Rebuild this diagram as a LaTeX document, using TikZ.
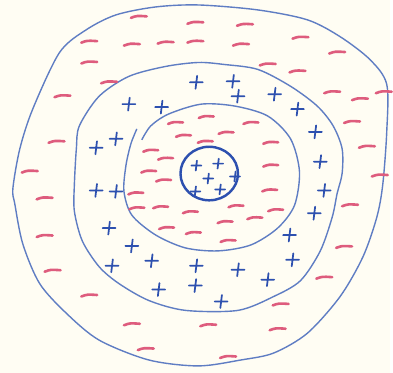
\documentclass[tikz,border=0pt]{standalone}
\usepackage{tikz}
\definecolor{fond}{RGB}{255,253,243}
\definecolor{bleutrait}{RGB}{95,125,195}
\definecolor{bleusigne}{RGB}{45,80,175}
\definecolor{rosesigne}{RGB}{222,92,125}

\begin{document}
\begin{tikzpicture}[x=0.02cm, y=-0.02cm,
		anneau/.style={color=bleutrait, line width=0.8pt},
		signeplus/.style={color=bleusigne, line width=1pt, line cap=round},
		signemoins/.style={color=rosesigne, line width=1.5pt, line cap=round}]
				\fill[fond] (0,0) rectangle (393,376);
				% dessin des anneaux
				\draw[anneau] plot[smooth cycle] coordinates {(13,190) (15,206) (23,246) (40,286) (67,316) (100,343) (150,363) (200,369) (243,363) (276,356) (310,336) (343,299) (366,259) (380,219) (386,186) (390,133) (390,85) (373,60) (343,37) (310,20) (260,10) (200,5) (157,7) (117,15) (87,30) (60,53) (33,110) (20,150)};
				\draw[anneau] plot[smooth cycle] coordinates {(80,127) (100,97) (130,77) (167,67) (200,63) (226,65) (260,70) (293,87) (320,107) (336,127) (345,150) (345,175) (340,195) (335,219) (323,253) (303,283) (276,299) (240,313) (187,313) (150,303) (120,286) (100,269) (83,243) (75,213) (75,186) (77,150)};
				\draw[anneau] plot[smooth] coordinates {(143,141) (152,127) (170,115) (203,105) (237,107) (270,117) (293,140) (302,173) (297,207) (280,230) (253,247) (220,253) (187,250) (157,237) (133,217) (125,193) (127,167) (132,145) (138,130)};
				\draw[anneau, color=bleusigne, line width=1.4pt] (211,175) ellipse (29 and 27);
				% charges positives
				\foreach \x/\y in {198/83, 235/82, 240/97, 277/95, 300/110, 130/105, 163/108, 117/140, 97/149, 318/133, 323/163, 327/192, 317/215, 292/237, 295/262, 270/282, 240/272, 198/268, 197/288, 160/292, 223/304, 153/263, 133/248, 113/268, 110/230, 97/192, 117/193}
					\draw[signeplus] (\x-6.5,\y)--(\x+6.5,\y) (\x+0.8,\y-6.5)--(\x-0.8,\y+6.5);
				\foreach \x/\y in {198/167, 220/165, 210/180, 237/178, 197/193, 222/191}
					\draw[signeplus] (\x-5,\y)--(\x+5,\y) (\x+0.6,\y-5)--(\x-0.6,\y+5);
				% charges negatives
				\foreach \x/\y in {140/17, 197/23, 247/25, 90/42, 133/45, 167/43, 197/42, 243/45, 303/38, 340/53, 90/63, 270/65, 300/72, 110/83, 63/97, 335/93, 363/100, 387/93, 355/123, 57/143, 370/148, 30/173, 383/177, 45/200, 353/207, 45/238, 347/249, 53/273, 327/280, 90/298, 283/307, 133/327, 210/328, 280/332, 147/352, 230/360}
					\draw[signemoins] (\x-8,\y+1) .. controls (\x-2,\y-1.2) .. (\x+8,\y-0.5);
				\foreach \x/\y in {177/124, 208/118, 253/124, 185/137, 228/134, 207/143, 273/144, 152/152, 167/160, 150/173, 165/182, 273/167, 137/195, 138/210, 162/209, 192/214, 238/208, 272/192, 278/212, 257/220, 227/224, 168/230, 195/235, 230/243}
					\draw[signemoins] (\x-7.5,\y+1) .. controls (\x-2,\y-1.2) .. (\x+7.5,\y-0.5);
		\end{tikzpicture}
\end{document}
